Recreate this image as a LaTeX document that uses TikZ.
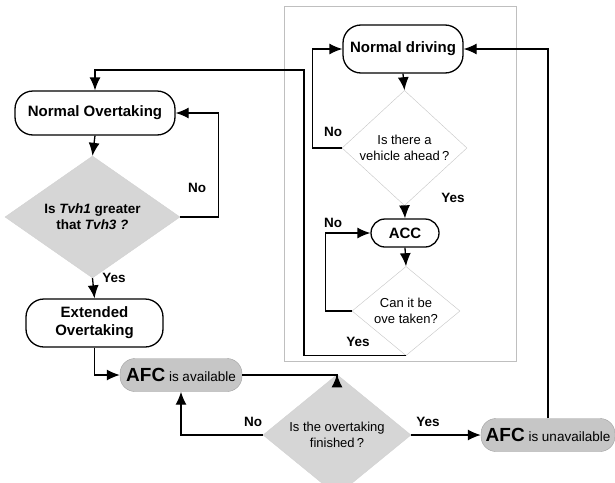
\documentclass[tikz,border=0pt]{standalone}
\usepackage{fontspec}
\setmainfont{Liberation Sans}
\usetikzlibrary{shapes.geometric,arrows.meta}

\begin{document}
\begin{tikzpicture}[x=1pt,y=-1pt,
  box/.style={draw,line width=1.3pt,rounded corners=18pt,align=center,inner sep=2pt,font=\bfseries\fontsize{15}{18}\selectfont},
  afc/.style={draw=gray!75,fill=gray!45,rounded corners=15pt,minimum height=33pt,inner sep=2pt,font=\fontsize{13.5}{15}\selectfont},
  ask/.style={diamond,draw=gray!45,align=center,inner sep=0pt,font=\fontsize{13}{16}\selectfont},
  lab/.style={font=\bfseries\fontsize{13.5}{15}\selectfont},
  arr/.style={-{Latex[length=13pt,width=11pt]},line width=1.3pt}]
\useasboundingbox (0,0) rectangle (615,482);
\draw[gray!50,line width=0.8pt](284,6)rectangle(516,361);
% left column
\node[box,minimum width=160pt,minimum height=44pt](normov)at(95,113){Normal Overtaking};
\node[ask,fill=gray!32,draw=gray!35,font=\bfseries\fontsize{13.5}{16}\selectfont,minimum width=175pt,minimum height=104pt](tvh)at(92.5,217){Is \textit{Tvh1} greater\\that \textit{Tvh3 ?}};
\node[box,minimum width=137pt,minimum height=48pt](ext)at(94.5,323){Extended\\Overtaking};
\node[afc,minimum width=122pt](afcon)at(181,375){{\bfseries\fontsize{19}{19}\selectfont AFC} is available};
\node[ask,fill=gray!32,draw=gray!35,minimum width=148pt,minimum height=90pt](fin)at(337,435){Is the overtaking\\finished\,?};
\node[afc,minimum width=134pt](afcoff)at(548,435){{\bfseries\fontsize{19}{19}\selectfont AFC} is unavailable};
% right block
\node[box,minimum width=120pt,minimum height=48pt](normdr)at(403,49){Normal driving};
\node[ask,fill=white,minimum width=125pt,minimum height=75pt](veh)at(404.5,148){Is there a\\vehicle ahead\,?};
\node[box,rounded corners=14pt,minimum width=68pt,minimum height=28pt](acc)at(405,233){ACC};
\node[ask,fill=white,minimum width=108pt,minimum height=67pt](canit)at(406,311){Can it be\\ove taken?};
% labels
\node[lab](no1)at(197,188){No};
\node[lab](yes1)at(114,278){Yes};
\node[lab](no2)at(333,132){No};
\node[lab](yes2)at(453,198){Yes};
\node[lab](no3)at(333,223){No};
\node[lab](yes3)at(358,342){Yes};
\node[lab](no4)at(253,422){No};
\node[lab](yes4)at(428,422){Yes};
% connectors
\draw[arr](normov.south)--(tvh.north);
\draw[arr](tvh.east)--++(38,0)|-(normov.east);
\draw[arr](tvh.south)--(ext.north);
\draw[arr](ext.south)|-(afcon.west);
\draw[arr](afcon.east)-|(fin.north);
\draw[arr](fin.west)-|(afcon.south);
\draw[arr](fin.east)--(afcoff.west);
\draw[arr](afcoff.north)|-(normdr.east);
\draw[arr](normdr.south)--(veh.north);
\draw[arr](veh.west)--++(-29,0)|-(normdr.west);
\draw[arr](veh.south)--(acc.north);
\draw[arr](acc.south)--(canit.north);
\draw[arr](canit.west)--++(-26,0)|-(acc.west);
\draw[arr](canit.south)-|(304,70)-|(normov.north);
\end{tikzpicture}
\end{document}
